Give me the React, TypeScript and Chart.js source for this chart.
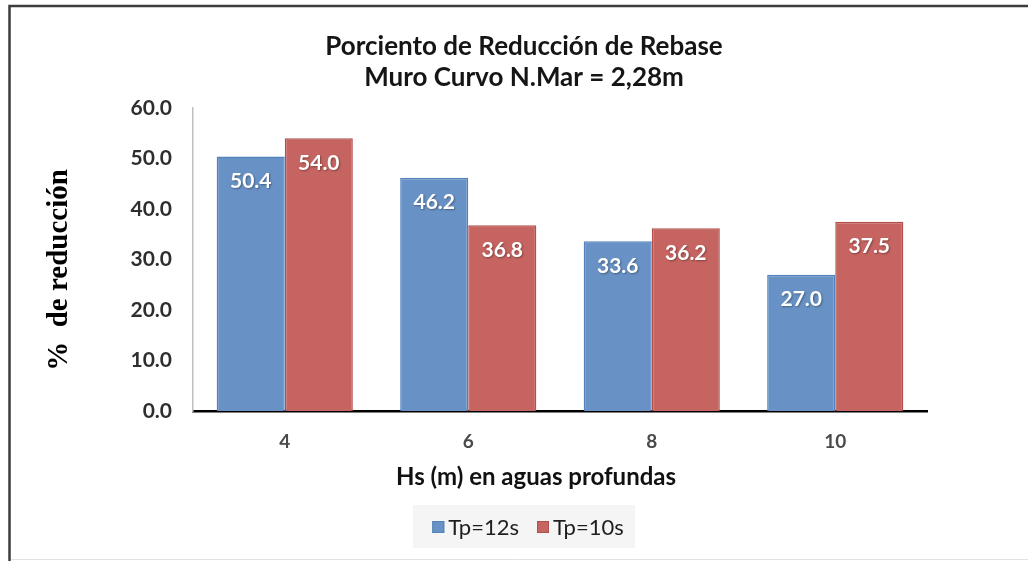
import { useEffect, useRef } from 'react';
import { Chart, registerables } from 'chart.js';

Chart.register(...registerables);

// Wave height categories and reduction percentages per peak period
const categories = ['4', '6', '8', '10'];
const seriesNames = ['Tp=12s', 'Tp=10s'];
const tp12Values = [50.4, 46.2, 33.6, 27.0];
const tp10Values = [54.0, 36.8, 36.2, 37.5];
const yTickValues = [0, 10, 20, 30, 40, 50, 60];

const titleLines = ['Porciento de Reducción de Rebase', 'Muro Curvo N.Mar = 2,28m'];
const xAxisTitle = 'Hs (m) en aguas profundas';
const yAxisTitle = '%  de reducción';

const BLUE = '#6892C5';
const BLUE_EDGE = '#5282BC';
const RED = '#C66461';
const RED_EDGE = '#B24F4C';
const SANS = 'Lato, "Open Sans", sans-serif';

// White page with the dark frame on the top and left edges
const framePlugin = {
  id: 'frame',
  beforeDraw(chart: any) {
    const { ctx, width, height } = chart;
    ctx.save();
    ctx.fillStyle = '#ffffff';
    ctx.fillRect(0, 0, width, height);
    ctx.strokeStyle = '#3d3d3d';
    ctx.lineWidth = 2.5;
    ctx.beginPath();
    ctx.moveTo(9.5, height);
    ctx.lineTo(9.5, 6);
    ctx.lineTo(width, 6);
    ctx.stroke();
    ctx.strokeStyle = '#e2e2e2';
    ctx.lineWidth = 1;
    ctx.beginPath();
    ctx.moveTo(11, height - 1.5);
    ctx.lineTo(width, height - 1.5);
    ctx.stroke();
    ctx.restore();
  },
};

// Value labels inside the top of each bar
const valueLabelPlugin = {
  id: 'valueLabels',
  afterDatasetsDraw(chart: any) {
    const { ctx } = chart;
    ctx.save();
    ctx.font = `bold 21px ${SANS}`;
    ctx.fillStyle = '#ffffff';
    ctx.textAlign = 'center';
    ctx.textBaseline = 'middle';
    ctx.shadowColor = 'rgba(0,0,0,0.35)';
    ctx.shadowBlur = 2;
    ctx.shadowOffsetX = 1;
    ctx.shadowOffsetY = 1;
    chart.data.datasets.forEach((ds: any, i: number) => {
      const meta = chart.getDatasetMeta(i);
      meta.data.forEach((bar: any, j: number) => {
        const v = ds.data[j] as number;
        ctx.fillText(v.toFixed(1), bar.x, bar.y + 25);
      });
    });
    ctx.restore();
  },
};

// Axis titles and the boxed legend below the plot
const decorPlugin = {
  id: 'decor',
  afterDraw(chart: any) {
    const { ctx } = chart;
    ctx.save();

    ctx.fillStyle = '#111111';
    ctx.font = `bold 24px ${SANS}`;
    ctx.textAlign = 'center';
    ctx.textBaseline = 'middle';
    ctx.fillText(xAxisTitle, 536, 477);

    ctx.save();
    ctx.translate(60, 270);
    ctx.rotate(-Math.PI / 2);
    ctx.font = 'bold 29px "Liberation Serif", "Times New Roman", serif';
    ctx.fillStyle = '#000000';
    ctx.fillText(yAxisTitle, 0, 0);
    ctx.restore();

    // legend
    ctx.fillStyle = '#f5f5f5';
    ctx.fillRect(413, 505, 222, 43);
    ctx.font = `22px ${SANS}`;
    ctx.textAlign = 'left';
    const box = 12;
    const gap = 4;
    const itemGap = 18;
    const items = chart.data.datasets.map((ds: any) => ({
      label: ds.label as string,
      fill: ds.backgroundColor as string,
      edge: ds.borderColor as string,
      w: ctx.measureText(ds.label).width,
    }));
    const total =
      items.reduce((s: number, it: any) => s + box + gap + it.w, 0) + itemGap * (items.length - 1);
    let x = 528 - total / 2;
    const cy = 527;
    items.forEach((it: any) => {
      ctx.fillStyle = it.fill;
      ctx.fillRect(x, cy - box / 2, box, box);
      ctx.strokeStyle = it.edge;
      ctx.lineWidth = 1;
      ctx.strokeRect(x + 0.5, cy - box / 2 + 0.5, box - 1, box - 1);
      ctx.fillStyle = '#1e1e1e';
      ctx.fillText(it.label, x + box + gap, cy + 1);
      x += box + gap + it.w + itemGap;
    });

    ctx.restore();
  },
};

export default function App() {
  const canvasRef = useRef<HTMLCanvasElement | null>(null);

  useEffect(() => {
    const canvas = canvasRef.current;
    if (!canvas) return;
    const chart = new Chart(canvas, {
      type: 'bar',
      data: {
        labels: categories,
        datasets: [
          {
            label: seriesNames[0],
            data: tp12Values,
            backgroundColor: BLUE,
            borderColor: BLUE_EDGE,
            borderWidth: 1.5,
          },
          {
            label: seriesNames[1],
            data: tp10Values,
            backgroundColor: RED,
            borderColor: RED_EDGE,
            borderWidth: 1.5,
          },
        ],
      },
      options: {
        responsive: false,
        animation: false,
        devicePixelRatio: 1,
        datasets: {
          bar: { categoryPercentage: 0.742, barPercentage: 1 },
        },
        layout: { padding: { left: 121, right: 101, top: 0, bottom: 90 } },
        plugins: {
          legend: { display: false },
          tooltip: { enabled: false },
          title: {
            display: true,
            text: titleLines,
            color: '#151515',
            font: { family: SANS, size: 26, weight: 'bold', lineHeight: 31 / 26 },
            padding: { top: 31, bottom: 15 },
          },
        },
        scales: {
          x: {
            grid: { display: false, drawTicks: false },
            border: { display: true, color: '#000000', width: 2.5 },
            ticks: {
              color: '#4a4a4a',
              padding: 19,
              font: { family: SANS, size: 19, weight: 'bold' },
            },
            afterFit(scale: any) {
              scale.height = 60;
            },
          },
          y: {
            min: yTickValues[0],
            max: yTickValues[yTickValues.length - 1],
            grid: { display: false, drawTicks: false },
            border: { display: true, color: '#bfbfbf', width: 1.5 },
            ticks: {
              stepSize: yTickValues[1] - yTickValues[0],
              color: '#2e2e2e',
              padding: 21,
              font: { family: SANS, size: 21, weight: 'bold' },
              callback: (v: any) => Number(v).toFixed(1),
            },
            afterFit(scale: any) {
              scale.width = 72;
            },
          },
        },
      },
      plugins: [framePlugin, valueLabelPlugin, decorPlugin],
    });
    return () => chart.destroy();
  }, []);

  return (
    <div style={{ position: 'fixed', left: 0, top: 0, width: 1028, height: 561 }}>
      <canvas ref={canvasRef} width={1028} height={561} style={{ display: 'block', width: 1028, height: 561 }} />
    </div>
  );
}
